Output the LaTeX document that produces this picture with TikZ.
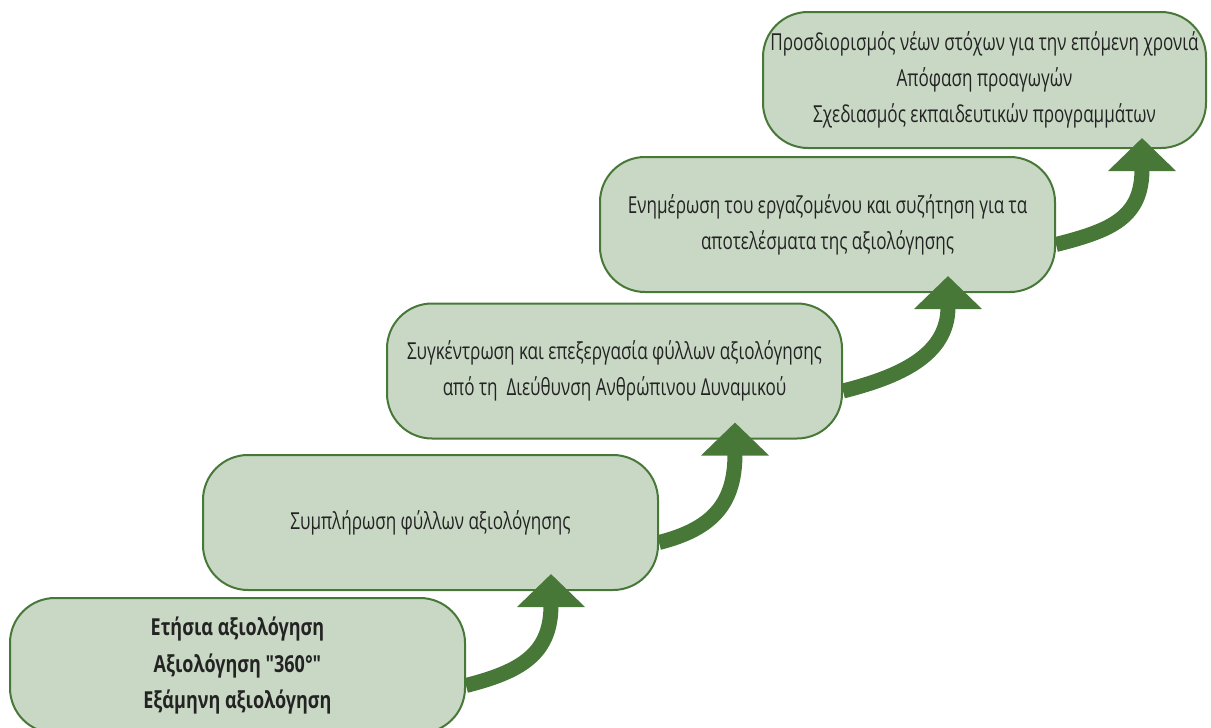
\documentclass[tikz,border=0pt]{standalone}
\usepackage{fontspec}
\setmainfont{Open Sans}[FakeStretch=0.73, Ligatures=TeXOff, BoldFeatures={FakeStretch=0.77}]
\usetikzlibrary{arrows.meta}
\definecolor{boxfill}{RGB}{200,216,196}
\definecolor{darkgreen}{RGB}{71,120,56}
\definecolor{txt}{RGB}{35,35,35}
\tikzset{
  stepbox/.style={draw=darkgreen, line width=2pt, fill=boxfill, rounded corners=45pt,
    minimum width=455pt, minimum height=135pt, align=center, text=txt,
    font=\fontsize{23.4}{36}\selectfont, inner sep=0pt},
  flow/.style={draw=darkgreen, line width=15pt, -{Triangle[width=66pt,length=33pt]}}
}
\begin{document}
\begin{tikzpicture}[x=1pt,y=-1pt]
\useasboundingbox (0,0) rectangle (1211,728);
\clip (0,0) rectangle (1211,728);
\node[stepbox, font=\fontsize{23.4}{36.5}\selectfont\bfseries] (b1) at (237.5,665.5)
  {Ετήσια αξιολόγηση\\Αξιολόγηση "360°"\\Εξάμηνη αξιολόγηση};
\node[stepbox] (b2) at (430.5,522.5) {Συμπλήρωση φύλλων αξιολόγησης};
\node[stepbox] (b3) at (614.5,371) {Συγκέντρωση και επεξεργασία φύλλων αξιολόγησης\\από τη\ \ Διεύθυνση Ανθρώπινου Δυναμικού};
\node[stepbox] (b4) at (827.5,224.5) {Ενημέρωση του εργαζομένου και συζήτηση για τα\\αποτελέσματα της αξιολόγησης};
\node[stepbox, minimum width=443pt, minimum height=136pt] (b5) at (984.5,80) {Προσδιορισμός νέων στόχων για την επόμενη χρονιά\\Απόφαση προαγωγών\\Σχεδιασμός εκπαιδευτικών προγραμμάτων};
\draw[flow] ([yshift=-20pt]b1.east) .. controls +(55,-14) and +(0,80) .. ([shift={(-108,-17)}]b2.south east);
\draw[flow] ([yshift=-20pt]b2.east) .. controls +(55,-14) and +(0,80) .. ([shift={(-108,-17)}]b3.south east);
\draw[flow] ([yshift=-20pt]b3.east) .. controls +(55,-14) and +(0,80) .. ([shift={(-108,-17)}]b4.south east);
\draw[flow] ([yshift=-20pt]b4.east) .. controls +(55,-14) and +(0,80) .. ([shift={(-65,-11)}]b5.south east);
\end{tikzpicture}
\end{document}
